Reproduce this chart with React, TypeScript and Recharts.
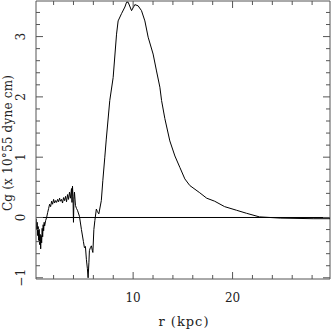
import { LineChart, Line, XAxis, YAxis, ReferenceLine } from 'recharts';

// radius (kpc) and gravitational torque Cg (x 10^55 dyne cm)
const R_KPC = [
  0.25, 0.3, 0.35, 0.4, 0.45, 0.5, 0.55, 0.6, 0.65, 0.7, 0.75, 0.8, 0.85, 0.9, 0.95, 1.0,
  1.05, 1.1, 1.2, 1.3, 1.4, 1.5, 1.6, 1.7, 1.8, 1.9, 2.0, 2.1, 2.2, 2.3, 2.4, 2.5, 2.6,
  2.7, 2.8, 2.9, 3.0, 3.1, 3.2, 3.3, 3.4, 3.5, 3.6, 3.7, 3.8, 3.85, 3.9, 3.95, 4.0, 4.05,
  4.1, 4.2, 4.3, 4.4, 4.6, 4.8, 5.0, 5.1, 5.2, 5.3, 5.4, 5.47, 5.55, 5.6, 5.7, 5.8, 5.9,
  5.95, 6.05, 6.15, 6.3, 6.4, 6.55, 6.8, 6.95, 7.15, 7.3, 7.65, 7.99, 8.33, 8.49, 8.83,
  9.17, 9.34, 9.5, 9.84, 10.17, 10.5, 10.84, 11.18, 11.51, 12.01, 12.35, 12.69, 12.86,
  13.19, 13.69, 14.2, 14.7, 15.2, 15.7, 16.7, 17.4, 18.2, 19.2, 20.4, 21.4, 22.7, 24.8,
  28.1, 29.8,
];
const CG = [
  -0.02, -0.2, -0.08, -0.3, -0.15, -0.38, -0.2, -0.45, -0.28, -0.52, -0.3, -0.42, -0.18,
  -0.32, -0.12, -0.22, -0.08, -0.14, -0.05, 0.0, 0.08, 0.15, 0.22, 0.18, 0.27, 0.22, 0.3,
  0.24, 0.28, 0.25, 0.3, 0.26, 0.32, 0.27, 0.3, 0.24, 0.33, 0.28, 0.35, 0.26, 0.38, 0.3,
  0.42, 0.32, 0.48, 0.25, 0.52, 0.35, -0.08, 0.3, 0.42, 0.2, 0.15, 0.12, 0.02, -0.2, -0.4,
  -0.5, -0.48, -0.7, -0.85, -1.0, -0.75, -0.55, -0.5, -0.47, -0.55, -0.58, -0.2, -0.05,
  0.14, 0.1, 0.06, 0.28, 0.61, 1.0, 1.3, 1.94, 2.32, 3.04, 3.26, 3.38, 3.49, 3.57, 3.57,
  3.43, 3.53, 3.51, 3.43, 3.26, 2.99, 2.71, 2.43, 2.16, 1.94, 1.64, 1.27, 1.02, 0.83,
  0.64, 0.53, 0.41, 0.32, 0.27, 0.18, 0.12, 0.07, 0.01, -0.01, -0.02, -0.02,
];

const X_MAJOR = [10, 20];
const X_TICKS = [2, 4, 6, 8, 10, 12, 14, 16, 18, 20, 22, 24, 26, 28];
const Y_MAJOR = [-1, 0, 1, 2, 3];
const Y_TICKS = Array.from({ length: 23 }, (_, i) => Math.round((-1 + i * 0.2) * 10) / 10);

const X_DOMAIN: [number, number] = [0.23, 29.8];
const Y_DOMAIN: [number, number] = [-1.02, 3.59];

// layout
const W = 332;
const H = 332;
const PLOT_LEFT = 36;
const PLOT_RIGHT = 330;
const PLOT_TOP = 1;
const AXIS_H = 53;
const FRAME = '#555';
const FONT = '"DejaVu Serif", "Liberation Serif", serif';

const data = R_KPC.map((r, i) => ({ r, cg: CG[i] }));

function XTick({ x, y, payload }: any) {
  const v = payload.value;
  const len = X_MAJOR.includes(v) ? 7 : 4;
  return (
    <g>
      <line x1={x} y1={y} x2={x} y2={y - len} stroke={FRAME} />
      <line x1={x} y1={PLOT_TOP} x2={x} y2={PLOT_TOP + len} stroke={FRAME} />
      {X_MAJOR.includes(v) && (
        <text x={x} y={y + 23} textAnchor="middle" fontSize={12} fontFamily={FONT} fill="#222">
          {v}
        </text>
      )}
    </g>
  );
}

function YTick({ x, y, payload }: any) {
  const v = payload.value;
  const major = Y_MAJOR.includes(v);
  const len = major ? 7 : 4;
  return (
    <g>
      <line x1={x} y1={y} x2={x + len} y2={y} stroke={FRAME} />
      <line x1={PLOT_RIGHT - len} y1={y} x2={PLOT_RIGHT} y2={y} stroke={FRAME} />
      {major && (
        <text
          x={x - 11}
          y={y}
          transform={`rotate(-90, ${x - 11}, ${y})`}
          textAnchor="middle"
          fontSize={12}
          fontFamily={FONT}
          fill="#222"
        >
          {v < 0 ? `\u2212${Math.abs(v)}` : v}
        </text>
      )}
    </g>
  );
}

export default function App() {
  return (
    <div style={{ position: 'absolute', left: 0, top: 0, width: W, height: H, background: '#fff' }}>
      <LineChart
        width={W}
        height={H}
        data={data}
        margin={{ top: PLOT_TOP, right: W - PLOT_RIGHT, bottom: 0, left: 0 }}
      >
        <XAxis
          dataKey="r"
          type="number"
          domain={X_DOMAIN}
          allowDataOverflow
          ticks={X_TICKS}
          interval={0}
          tick={<XTick />}
          tickLine={false}
          tickSize={0}
          tickMargin={0}
          height={AXIS_H}
          axisLine={{ stroke: FRAME }}
        />
        <YAxis
          type="number"
          domain={Y_DOMAIN}
          allowDataOverflow
          ticks={Y_TICKS}
          interval={0}
          tick={<YTick />}
          tickLine={false}
          tickSize={0}
          tickMargin={0}
          width={PLOT_LEFT}
          axisLine={{ stroke: FRAME }}
        />
        <ReferenceLine y={Y_DOMAIN[1]} stroke={FRAME} />
        <ReferenceLine x={X_DOMAIN[1]} stroke={FRAME} />
        <ReferenceLine y={0} stroke="#000" />
        <Line
          dataKey="cg"
          type="linear"
          stroke="#000"
          strokeWidth={1}
          dot={false}
          isAnimationActive={false}
        />
      </LineChart>
      <div
        style={{
          position: 'absolute',
          left: 0,
          top: 314,
          width: W,
          paddingLeft: 36,
          boxSizing: 'border-box',
          textAlign: 'center',
          fontFamily: FONT,
          fontSize: 13,
          letterSpacing: 1,
          color: '#222',
        }}
      >
        r (kpc)
      </div>
      <div
        style={{
          position: 'absolute',
          left: 8,
          top: 143,
          transform: 'translate(-50%, -50%) rotate(-90deg)',
          whiteSpace: 'nowrap',
          fontFamily: FONT,
          fontSize: 12,
          letterSpacing: 0.2,
          color: '#222',
        }}
      >
        Cg (x 10°55 dyne cm)
      </div>
    </div>
  );
}
